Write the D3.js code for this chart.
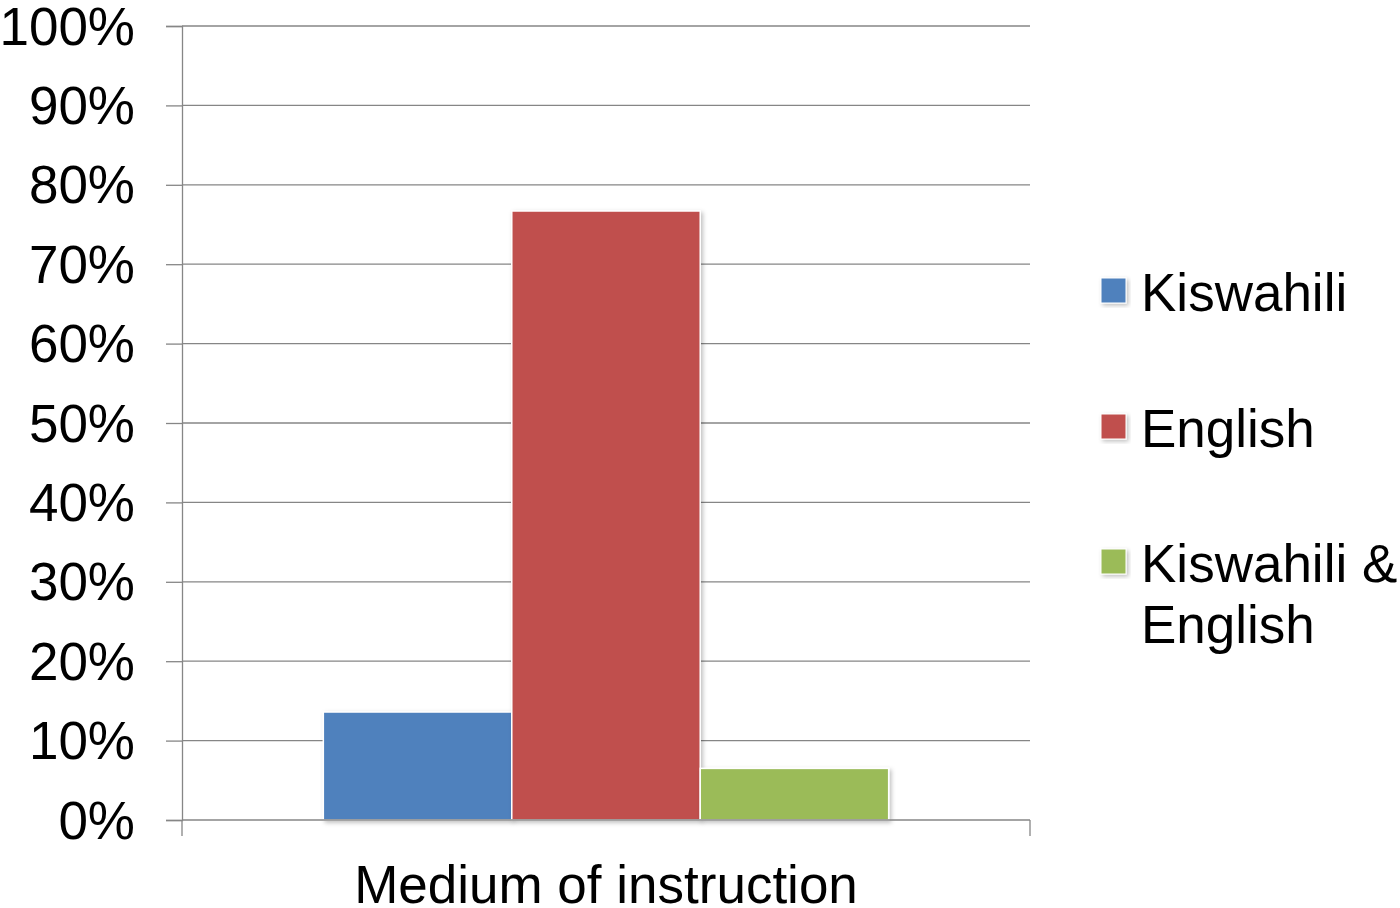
<!DOCTYPE html>
<html>
<head>
<meta charset="utf-8">
<script src="https://cdn.jsdelivr.net/npm/d3@7"></script>
<style>
  html, body { margin: 0; padding: 0; background: #fff; }
  svg { display: block; }
  text { font-family: "Liberation Sans", Arial, sans-serif; fill: #000; }
</style>
</head>
<body>
<svg id="chart" width="1400" height="908"></svg>
<script>
// ---- data ----
const categories = ["Medium of instruction"];
const seriesNames = ["Kiswahili", "English", "Kiswahili & English"];
const seriesLegendLines = [["Kiswahili"], ["English"], ["Kiswahili &", "English"]];
const seriesValues = [0.136, 0.767, 0.065];
const seriesColors = ["#4F81BD", "#C0504D", "#9BBB59"];
const yTicks = [0, 0.1, 0.2, 0.3, 0.4, 0.5, 0.6, 0.7, 0.8, 0.9, 1.0];

// ---- layout ----
const svg = d3.select("#chart");
const plot = { left: 182, right: 1030, top: 26, bottom: 820 };
const gridColor = "#868686";
const fontSize = 53;

const y = d3.scaleLinear().domain([0, 1]).range([plot.bottom, plot.top]);
const x0 = d3.scaleBand().domain(categories).range([plot.left, plot.right])
  .paddingInner(0).paddingOuter(0.25);
const x1 = d3.scaleBand().domain(seriesNames).range([0, x0.bandwidth()]).padding(0);

const defs = svg.append("defs");
const f = defs.append("filter").attr("id", "shadow")
  .attr("x", "-10%").attr("y", "-10%").attr("width", "130%").attr("height", "130%");
f.append("feDropShadow").attr("dx", 2).attr("dy", 2).attr("stdDeviation", 2)
  .attr("flood-color", "#000").attr("flood-opacity", 0.25);

// gridlines
svg.append("g").selectAll("line").data(yTicks.filter(d => d > 0)).join("line")
  .attr("x1", plot.left).attr("x2", plot.right)
  .attr("y1", d => y(d)).attr("y2", d => y(d))
  .attr("stroke", gridColor).attr("stroke-width", 1.3);

// y axis
const yAxis = d3.axisLeft(y).tickValues(yTicks).tickSize(16)
  .tickFormat(d3.format(".0%")).tickPadding(31);
const gy = svg.append("g").attr("transform", `translate(${plot.left},0)`).call(yAxis);
gy.select(".domain").attr("stroke", gridColor).attr("stroke-width", 1.3);
gy.selectAll(".tick line").attr("stroke", gridColor).attr("stroke-width", 1.3);
gy.selectAll(".tick text")
  .attr("font-family", '"Liberation Sans", Arial, sans-serif')
  .attr("font-size", fontSize).attr("fill", "#000")
  .attr("dy", "0.34em");

// bars
const g = svg.append("g").selectAll("g").data(categories).join("g")
  .attr("transform", d => `translate(${x0(d)},0)`);
g.selectAll("rect").data(seriesNames.map((s, i) => ({ s, v: seriesValues[i], c: seriesColors[i] })))
  .join("rect")
  .attr("x", d => x1(d.s))
  .attr("width", x1.bandwidth())
  .attr("y", d => y(d.v))
  .attr("height", d => y(0) - y(d.v))
  .attr("fill", d => d.c)
  .attr("stroke", "#fff").attr("stroke-width", 1.5)
  .attr("filter", "url(#shadow)");

// x axis
svg.append("line")
  .attr("x1", plot.left).attr("x2", plot.right)
  .attr("y1", plot.bottom).attr("y2", plot.bottom)
  .attr("stroke", gridColor).attr("stroke-width", 1.3);
const xEdges = [plot.left, plot.right];
svg.append("g").selectAll("line").data(xEdges).join("line")
  .attr("x1", d => d).attr("x2", d => d)
  .attr("y1", plot.bottom).attr("y2", plot.bottom + 16)
  .attr("stroke", gridColor).attr("stroke-width", 1.3);
svg.append("g").selectAll("text").data(categories).join("text")
  .attr("x", d => x0(d) + x0.bandwidth() / 2)
  .attr("y", 903)
  .attr("text-anchor", "middle")
  .attr("font-size", fontSize)
  .text(d => d);

// legend
const legendBaselines = [311, 447, 582];
const lg = svg.append("g").selectAll("g").data(seriesNames).join("g");
lg.append("rect")
  .attr("x", 1101).attr("y", (d, i) => legendBaselines[i] - 33)
  .attr("width", 25).attr("height", 25)
  .attr("fill", (d, i) => seriesColors[i])
  .attr("stroke", "#fff").attr("stroke-width", 1)
  .attr("filter", "url(#shadow)");
lg.append("text")
  .attr("x", 1141).attr("y", (d, i) => legendBaselines[i])
  .attr("font-size", fontSize)
  .each(function(d, i) {
    d3.select(this).selectAll("tspan").data(seriesLegendLines[i]).join("tspan")
      .attr("x", 1141)
      .attr("dy", (t, j) => j === 0 ? 0 : 61)
      .text(t => t);
  });
</script>
</body>
</html>
